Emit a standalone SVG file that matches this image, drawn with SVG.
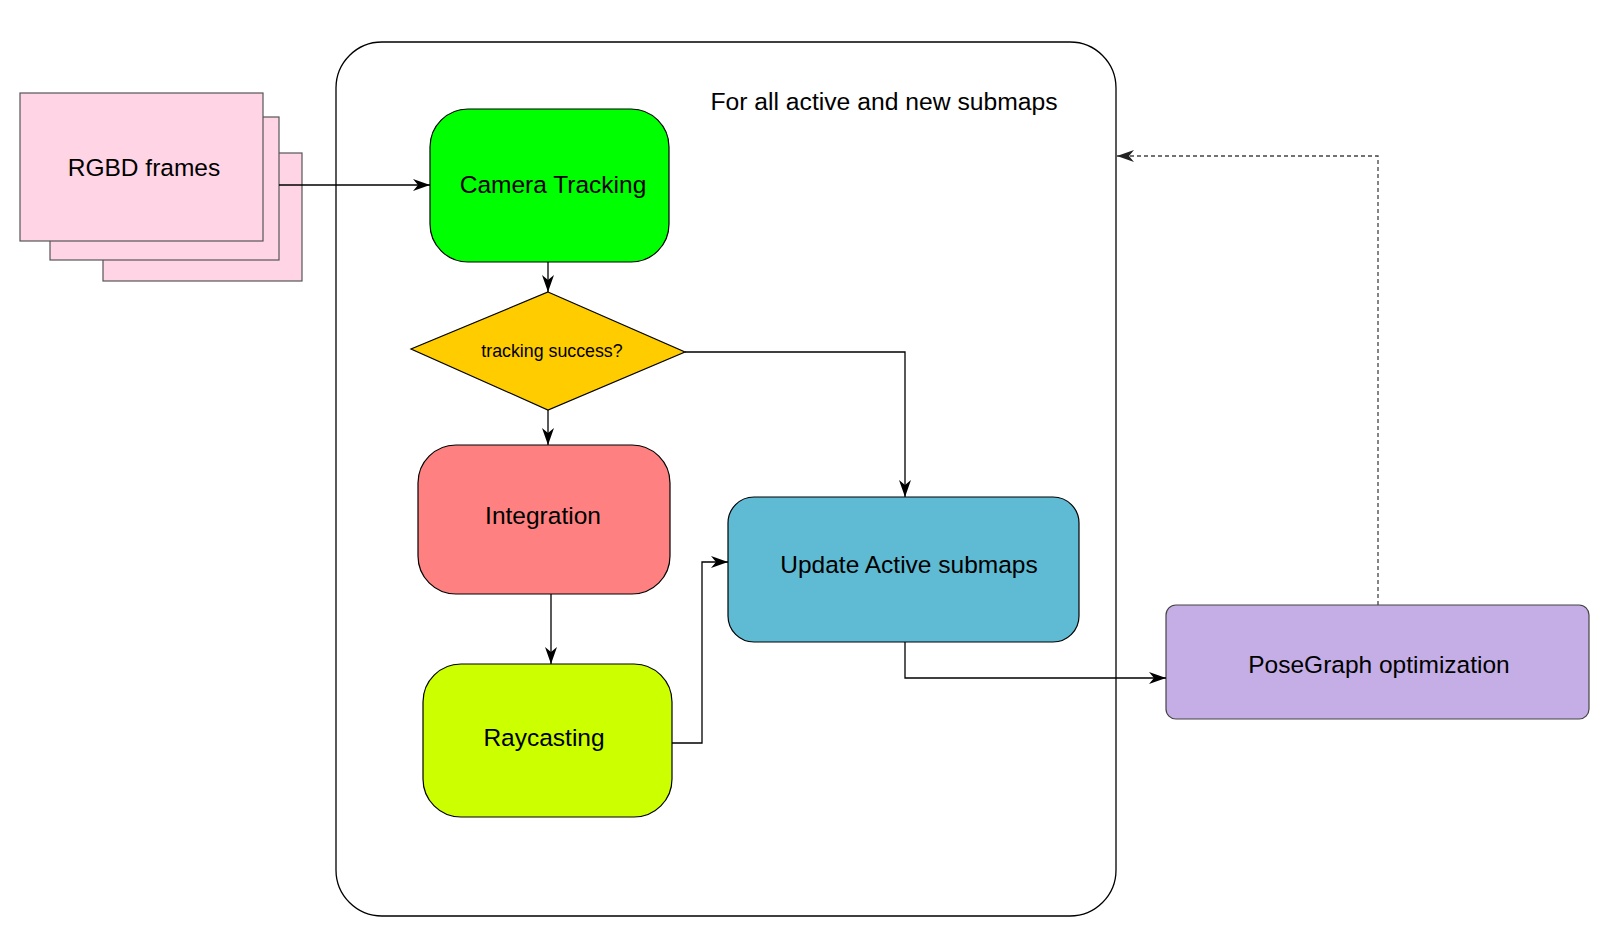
<svg xmlns="http://www.w3.org/2000/svg" width="1609" height="946" viewBox="0 0 1609 946">
<style>
text{font-family:"Liberation Sans","DejaVu Sans",sans-serif;font-size:24.5px;fill:#000;text-anchor:middle}
.node{stroke:#000;stroke-width:1.2}
.frame{fill:#FFD5E5;stroke:#555;stroke-width:1.2}
.conn{fill:none;stroke:#000;stroke-width:1.3}
.dash{fill:none;stroke:#444;stroke-width:1.3;stroke-dasharray:4 3}
</style>
<defs>
<marker id="arr" markerUnits="userSpaceOnUse" markerWidth="18" markerHeight="12" refX="17" refY="6" orient="auto">
<path d="M0,0 L17,6 L0,12 L5,6 z" fill="#000"/>
</marker>
<marker id="arrg" markerUnits="userSpaceOnUse" markerWidth="18" markerHeight="12" refX="17" refY="6" orient="auto">
<path d="M0,0 L17,6 L0,12 L5,6 z" fill="#222"/>
</marker>
</defs>
<rect x="0" y="0" width="1609" height="946" fill="#fff"/>
<g id="container">
<rect x="336" y="42" width="780" height="874" rx="46" fill="none" stroke="#000" stroke-width="1.3"/>
<text x="884" y="110" style="font-size:24.7px">For all active and new submaps</text>
</g>
<g id="rgbd">
<rect class="frame" x="103" y="153" width="199" height="128"/>
<rect class="frame" x="50" y="117" width="229" height="143"/>
<rect class="frame" x="20" y="93" width="243" height="148"/>
<text x="144" y="176">RGBD frames</text>
</g>
<g id="camera">
<rect class="node" x="430" y="109" width="239" height="153" rx="38" fill="#00FF00"/>
<text x="553" y="193">Camera Tracking</text>
</g>
<g id="decision">
<polygon class="node" points="548,292 685,352 548,410 411,349" fill="#FFCC00"/>
<text x="552" y="357" style="font-size:17.8px">tracking success?</text>
</g>
<g id="integration">
<rect class="node" x="418" y="445" width="252" height="149" rx="38" fill="#FF8080"/>
<text x="543" y="524">Integration</text>
</g>
<g id="raycasting">
<rect class="node" x="423" y="664" width="249" height="153" rx="38" fill="#CCFF00"/>
<text x="544" y="746">Raycasting</text>
</g>
<g id="update">
<rect class="node" x="728" y="497" width="351" height="145" rx="26" fill="#5FBBD3"/>
<text x="909" y="573">Update Active submaps</text>
</g>
<g id="posegraph">
<rect x="1166" y="605" width="423" height="114" rx="10" fill="#C5AEE6" stroke="#444" stroke-width="1.2"/>
<text x="1379" y="673">PoseGraph optimization</text>
</g>
<g id="connectors">
<path class="conn" d="M279,185 H430" marker-end="url(#arr)"/>
<path class="conn" d="M548,262 V292" marker-end="url(#arr)"/>
<path class="conn" d="M548,410 V445" marker-end="url(#arr)"/>
<path class="conn" d="M551,594 V664" marker-end="url(#arr)"/>
<path class="conn" d="M672,743 H702 V562 H728" marker-end="url(#arr)"/>
<path class="conn" d="M685,352 H905 V497" marker-end="url(#arr)"/>
<path class="conn" d="M905,642 V678 H1166" marker-end="url(#arr)"/>
<path class="dash" d="M1378,605 V156 H1117" marker-end="url(#arrg)"/>
</g>
</svg>
